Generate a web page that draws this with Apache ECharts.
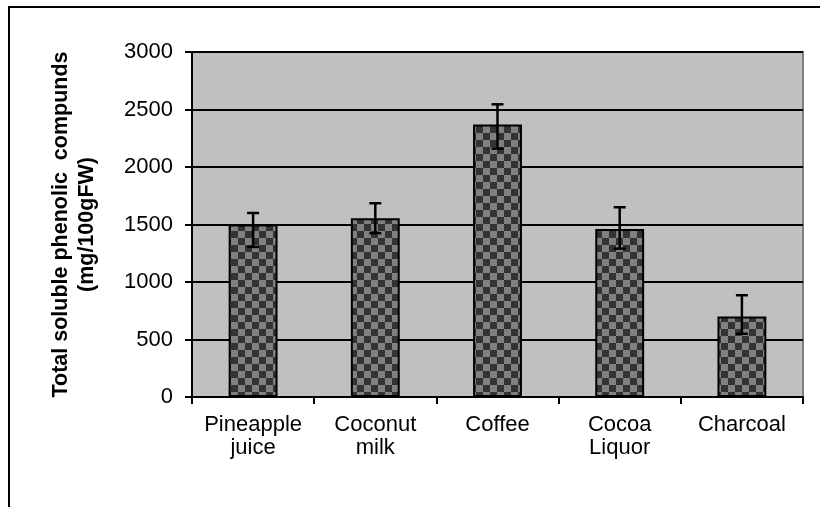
<!DOCTYPE html>
<html>
<head>
<meta charset="utf-8">
<script src="https://cdn.jsdelivr.net/npm/echarts@6/dist/echarts.min.js"></script>
<style>
  html, body { margin: 0; padding: 0; background: #fff; }
  #chart { width: 820px; height: 507px; }
</style>
</head>
<body>
<div id="chart"></div>
<script>
const categories = ['Pineapple\njuice', 'Coconut\nmilk', 'Coffee', 'Cocoa\nLiquor', 'Charcoal']
const phenolics = [1500, 1555, 2370, 1460, 700]
const errLow = [1305, 1425, 2160, 1290, 550]
const errHigh = [1600, 1685, 2545, 1650, 885]

// checkered fill like the original spreadsheet pattern
const makePattern = () => {
  const c = document.createElement('canvas')
  const s = 7
  c.width = s * 2
  c.height = s * 2
  const ctx = c.getContext('2d')
  ctx.fillStyle = '#808080'
  ctx.fillRect(0, 0, s * 2, s * 2)
  ctx.fillStyle = '#333333'
  ctx.fillRect(0, 0, s, s)
  ctx.fillRect(s, s, s, s)
  return c
}

const chart = echarts.init(document.getElementById('chart'))

const option = {
  animation: false,
  textStyle: { fontFamily: 'Liberation Sans, Arial, sans-serif' },
  graphic: [{
    type: 'rect',
    shape: { x: 9, y: 7, width: 900, height: 600 },
    style: { fill: 'none', stroke: '#000', lineWidth: 2 },
    silent: true
  }],
  grid: {
    left: 192, top: 52, right: 17, bottom: 110,
    show: true, backgroundColor: '#c0c0c0', borderColor: '#808080', borderWidth: 2
  },
  xAxis: {
    type: 'category',
    data: categories,
    axisLine: { lineStyle: { color: '#000', width: 2 } },
    axisTick: { show: true, interval: 0, length: 7, lineStyle: { color: '#000', width: 2 } },
    axisLabel: { color: '#000', fontSize: 22, lineHeight: 23, margin: 16, interval: 0 }
  },
  yAxis: {
    type: 'value',
    min: 0, max: 3000, interval: 500,
    name: 'Total soluble phenolic  compunds\n(mg/100gFW)',
    nameLocation: 'middle',
    nameRotate: 90,
    nameGap: 92,
    nameTextStyle: { color: '#000', fontSize: 21.5, fontWeight: 'bold', lineHeight: 26 },
    axisLine: { show: true, lineStyle: { color: '#000', width: 2 } },
    axisTick: { show: true, length: 7, lineStyle: { color: '#000', width: 2 } },
    axisLabel: { color: '#000', fontSize: 22, margin: 19, formatter: v => String(v) },
    splitLine: { lineStyle: { color: '#000', width: 2 } }
  },
  series: [
    {
      type: 'bar',
      data: phenolics,
      barWidth: '40%',
      itemStyle: {
        color: { image: makePattern(), repeat: 'repeat' },
        borderColor: '#000',
        borderWidth: 2
      }
    },
    {
      type: 'custom',
      data: phenolics.map((v, i) => [i, errLow[i], errHigh[i]]),
      encode: { x: 0, y: [1, 2] },
      z: 10,
      renderItem: (params, api) => {
        const lo = api.coord([api.value(0), api.value(1)])
        const hi = api.coord([api.value(0), api.value(2)])
        const w = 6
        const style = { stroke: '#000', lineWidth: 2.5 }
        return {
          type: 'group',
          children: [
            { type: 'line', shape: { x1: hi[0], y1: hi[1], x2: lo[0], y2: lo[1] }, style },
            { type: 'line', shape: { x1: hi[0] - w, y1: hi[1], x2: hi[0] + w, y2: hi[1] }, style },
            { type: 'line', shape: { x1: lo[0] - w, y1: lo[1], x2: lo[0] + w, y2: lo[1] }, style }
          ]
        }
      }
    }
  ]
}

chart.setOption(option)
</script>
</body>
</html>
